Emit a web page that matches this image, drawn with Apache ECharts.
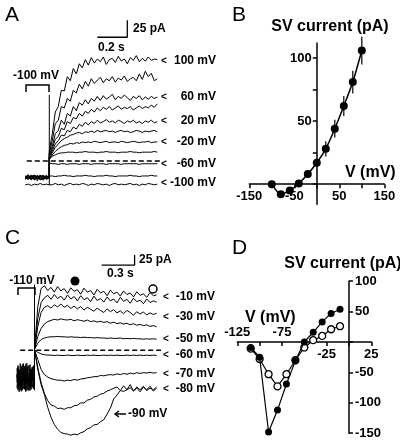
<!DOCTYPE html>
<html><head><meta charset="utf-8">
<script src="https://cdn.jsdelivr.net/npm/echarts@6/dist/echarts.min.js"></script>
<style>html,body{margin:0;padding:0;background:#fff}#c{width:400px;height:442px}</style>
</head><body><div id="c"></div>
<script>
// ---------------- Panel A : current traces (time s, current pA) ----------------
const timeA = [-0.16,-0.14,-0.12,-0.10,-0.08,-0.06,-0.04,-0.02,0,
  0,0.02,0.04,0.06,0.08,0.10,0.12,0.14,0.16,0.18,0.20,0.22,0.24,0.26,0.28,0.30,0.32,0.34,0.36,0.38,0.40,0.42,0.44,0.46,0.48,0.50,0.52,0.54,0.56,0.58,0.60,0.62,0.64,0.66,0.68,0.70,0.72];
const trA100 = [-24,-20,-27,-22,-26,-21,-25,-23,-24, 15,40,72,80,104,103,124,118,136,128,143,137,149,141,152,144,150,146,153,142,149,151,145,154,147,150,143,152,148,155,146,151,147,153,148,150,149];
const trA80  = [-26,-22,-24,-28,-21,-25,-27,-22,-25, 12,30,55,60,80,78,92,88,104,100,113,106,117,110,121,114,119,123,115,121,118,124,116,122,119,125,117,121,123,118,128,120,132,124,129,118,121];
const trA60  = [-22,-27,-23,-25,-29,-22,-24,-26,-23, 10,22,40,45,60,54,70,66,80,74,86,82,90,84,92,88,95,89,96,91,94,98,90,95,92,97,93,89,95,92,96,90,94,91,95,92,94];
const trA40  = [-25,-23,-28,-21,-24,-27,-22,-26,-24, 8,18,32,36,48,46,58,55,64,62,70,66,73,70,76,72,78,74,79,76,80,75,78,81,76,79,77,80,75,78,81,77,80,78,82,79,84];
const trA20  = [-27,-24,-21,-26,-23,-28,-25,-21,-26, 6,15,25,30,38,37,45,43,50,47,54,51,57,53,58,55,60,56,58,61,57,59,56,60,58,55,59,57,60,56,58,55,59,57,60,56,58];
const trA0   = [-23,-26,-25,-24,-22,-26,-28,-24,-22, 4,12,20,25,30,33,35,38,39,41,42,40,43,42,44,42,45,43,44,45,43,44,42,44,45,43,44,42,43,45,44,42,44,43,44,45,43];
const trAm20 = [-25,-21,-26,-23,-27,-24,-21,-27,-25, 2,9,14,18,21,23,24,26,25,27,26,28,27,28,27,29,28,27,28,29,27,28,28,27,29,28,27,28,29,28,27,28,28,29,27,28,28];
const trAm40 = [-24,-27,-22,-25,-24,-21,-26,-25,-23, 3,7,9,11,12,12,13,13,13,12,13,13,14,13,13,13,12,13,13,14,13,13,13,12,13,13,13,14,13,13,12,13,13,13,13,14,13];
const trAm60 = [-26,-24,-23,-27,-25,-24,-23,-26,-24, -3,-4,-4,-5,-4,-4,-5,-4,-4,-4,-5,-4,-4,-4,-5,-4,-4,-4,-4,-5,-4,-4,-4,-4,-5,-4,-4,-4,-4,-4,-5,-4,-4,-4,-4,-4,-4];
const trAm80 = [-22,-23,-22,-21,-23,-22,-22,-23,-22, -22,-22,-23,-22,-22,-21,-22,-22,-23,-22,-22,-22,-21,-22,-22,-23,-22,-22,-22,-21,-22,-22,-23,-22,-22,-22,-22,-21,-22,-22,-23,-22,-22,-22,-21,-22,-22];
const trAm100= [-35,-34,-36,-34,-35,-33,-35,-34,-35, -34,-35,-33,-35,-34,-36,-34,-33,-35,-34,-35,-33,-34,-36,-34,-35,-33,-34,-35,-34,-36,-34,-33,-35,-34,-35,-34,-33,-35,-34,-36,-34,-35,-33,-34,-35,-34];
const tracesA = [trA100,trA80,trA60,trA40,trA20,trA0,trAm20,trAm40,trAm60,trAm80,trAm100];
const spikeA = [[0,-35],[0,97]];
const zeroLineA = [-0.15, 0.75];
const scaleA = {t0:0.32, dt:0.2, i0:182, di:25};
const labelsA = ['100 mV','60 mV','20 mV','-20 mV','-60 mV','-100 mV'];

// ---------------- Panel B : I-V ----------------
const vB = [-100,-80,-60,-40,-20,0,20,40,60,80,100];
const iB = [0,-8,-5,0.5,8,17,28,44,62,81,106];
const eB = [0,0,0,0,3,3,6,7,8,9,11];
const bXRange = [-150,150];
const bYRange = [-16,112];
const bXTicks = [-150,-100,-50,0,50,100,150];
const bXLabels = [-150,-50,50,150];
const bYTicks = [0,25,50,75,100];
const bYLabels = [50,100];

// ---------------- Panel C : current traces ----------------
const preTimeC = [-0.16,-0.15,-0.14,-0.13,-0.12,-0.11,-0.10,-0.09,-0.08,-0.07,-0.06,-0.05,-0.04,-0.03,-0.02,-0.01,0];
const preC1 = [-45,-95,-60,-100,-40,-85,-55,-98,-35,-80,-65,-102,-50,-90,-42,-88,-70];
const preC2 = [-80,-38,-92,-50,-103,-62,-33,-96,-58,-45,-99,-70,-36,-84,-60,-97,-48];
const preC3 = [-60,-100,-48,-72,-90,-35,-78,-52,-104,-66,-40,-88,-94,-55,-75,-38,-92];
const preC4 = [-95,-55,-80,-33,-68,-100,-45,-85,-70,-101,-52,-37,-76,-98,-42,-66,-58];
const preC5 = [-70,-42,-104,-85,-52,-74,-96,-40,-88,-32,-82,-58,-100,-46,-93,-80,-36];
const timeC = [0,0.03,0.06,0.09,0.12,0.15,0.18,0.21,0.24,0.27,0.30,0.33,0.36,0.39,0.42,0.45,0.48,0.51,0.54,0.57,0.60,0.63,0.66,0.69,0.72,0.75,0.78,0.81,0.84,0.87,0.90,0.93,0.96,0.99,1.02,1.05,1.08,1.11];
const trCm10 = [2,110,155,162,150,158,146,160,149,155,143,157,148,152,141,156,146,150,139,153,144,148,137,151,142,146,136,149,140,144,134,147,138,142,133,145,137,139];
const trCm20 = [2,80,120,132,138,128,140,130,136,126,139,129,135,124,137,127,132,122,136,125,130,121,134,124,129,119,133,123,128,118,131,122,126,117,129,120,124,121];
const trCm30 = [2,60,95,108,112,106,114,109,116,108,113,105,111,104,110,101,108,103,98,106,100,95,104,97,102,94,99,92,100,95,88,97,91,96,89,94,90,93];
const trCm40 = [2,35,55,66,72,75,78,76,79,77,76,78,74,77,75,73,76,72,74,71,73,70,72,68,71,67,69,66,68,64,67,63,65,62,64,60,62,59];
const trCm50 = [2,18,27,31,33,34,34,35,34,34,33,34,33,33,32,33,32,32,31,32,31,31,30,31,30,30,31,29,30,29,30,29,29,28,29,28,29,28];
const trCm60 = [1,-5,-9,-11,-12,-12,-13,-12,-13,-13,-12,-13,-13,-12,-13,-13,-12,-13,-12,-13,-13,-12,-13,-12,-13,-12,-13,-13,-12,-13,-12,-13,-12,-13,-12,-13,-12,-13];
const trCm70 = [2,-23,-48,-61,-67,-71,-73,-75,-75,-77,-75,-76,-73,-75,-72,-71,-69,-68,-66,-66,-63,-64,-62,-61,-62,-59,-61,-58,-60,-57,-59,-56,-58,-56,-57,-55,-57,-56];
const trCm80 = [2,-43,-81,-108,-126,-137,-140,-146,-145,-148,-144,-144,-139,-138,-132,-132,-125,-123,-117,-115,-110,-108,-102,-99,-95,-92,-101,-89,-99,-86,-102,-95,-104,-92,-99,-90,-102,-95];
const trCm90 = [2,-48,-86,-111,-143,-168,-186,-198,-206,-209,-210,-213,-210,-212,-207,-204,-197,-194,-187,-186,-179,-174,-160,-145,-122,-112,-101,-103,-99,-94,-102,-92,-99,-90,-101,-95,-99,-92];
const tracesC = [trCm10,trCm20,trCm30,trCm40,trCm50,trCm60,trCm70,trCm80,trCm90];
const preC = [preC1,preC2,preC3,preC4,preC5];
const spikeC = [[0,-100],[0,165]];
const zeroLineC = [-0.13, 1.15];
const scaleC = {t0:0.61, dt:0.3, i0:214, di:25};
const labelsC = ['-10 mV','-30 mV','-50 mV','-60 mV','-70 mV','-80 mV'];

// ---------------- Panel D : I-V ----------------
const vD = [-110,-100,-90,-80,-70,-60,-50,-40,-30,-20,-10];
const iDpeak = [-9,-25,-148,-112,-69,-31,0,16,33,47,54];
const iDend  = [-11,-28,-53,-73,-53,-30,-9,3,10,21,26];
const dXRange = [-125,25];
const dYRange = [-150,100];
const dXTicks = [-125,-100,-75,-50,-25,0,25];
const dXLabelsUp = [-125,-75];
const dXLabelsDown = [-25,25];
const dYTicks = [100,50,0,-50,-100,-150];
const dYLabels = [100,50,-50,-100,-150];

// ---------------- build ----------------
const FF = '"Liberation Sans", Arial, sans-serif';
const zip = (xs, ys) => xs.map((x, i) => [x, ys[i]]);
const lineS = (xi, yi, data, extra) => Object.assign({
  type:'line', xAxisIndex:xi, yAxisIndex:yi, data, showSymbol:false, symbol:'none',
  lineStyle:{color:'#000', width:1}, silent:true, z:2
}, extra || {});

const series = [];
tracesA.forEach(tr => series.push(lineS(0,0,zip(timeA,tr))));
series.push(lineS(0,0,spikeA));
series.push(lineS(0,0,zeroLineA.map(t=>[t,0]),{lineStyle:{color:'#000',width:1.5,type:[5,3]}}));
series.push(lineS(0,0,[[scaleA.t0,scaleA.i0],[scaleA.t0+scaleA.dt,scaleA.i0],[scaleA.t0+scaleA.dt,scaleA.i0+scaleA.di]],{lineStyle:{color:'#000',width:1.3}}));

preC.forEach(p => series.push(lineS(2,2,zip(preTimeC,p),{lineStyle:{color:'#000',width:0.9}})));
tracesC.forEach(tr => series.push(lineS(2,2,zip(timeC,tr))));
series.push(lineS(2,2,spikeC));
series.push(lineS(2,2,zeroLineC.map(t=>[t,0]),{lineStyle:{color:'#000',width:1.5,type:[5,3]}}));
series.push(lineS(2,2,[[scaleC.t0,scaleC.i0],[scaleC.t0+scaleC.dt,scaleC.i0],[scaleC.t0+scaleC.dt,scaleC.i0+scaleC.di]],{lineStyle:{color:'#000',width:1.3}}));

// Panel B
series.push({type:'custom', xAxisIndex:1, yAxisIndex:1, silent:true, z:3,
  data: vB.map((v,i)=>[v,iB[i],eB[i]]),
  renderItem:(params, api)=>{
    const x=api.value(0), y=api.value(1), e=api.value(2);
    const a=api.coord([x,y-e]), b=api.coord([x,y+e]);
    return {type:'line', shape:{x1:a[0],y1:a[1],x2:b[0],y2:b[1]}, style:{stroke:'#000', lineWidth:1.2}};
  }});
series.push({type:'line', xAxisIndex:1, yAxisIndex:1, data:zip(vB,iB), smooth:0.25,
  symbol:'circle', symbolSize:8, itemStyle:{color:'#000'}, lineStyle:{color:'#000', width:1.5}, z:4, silent:true});

// Panel D
series.push({type:'line', xAxisIndex:3, yAxisIndex:3, data:zip(vD,iDend),
  symbol:'circle', symbolSize:7, itemStyle:{color:'#fff', borderColor:'#000', borderWidth:1.3},
  lineStyle:{color:'#000', width:1.2}, z:4, silent:true});
series.push({type:'line', xAxisIndex:3, yAxisIndex:3, data:zip(vD,iDpeak),
  symbol:'circle', symbolSize:7, itemStyle:{color:'#000'},
  lineStyle:{color:'#000', width:1.2}, z:5, silent:true});
// lower V-axis tick labels of panel D, drawn as labels of invisible points on the axis
series.push({type:'custom', xAxisIndex:3, yAxisIndex:3, silent:true, z:20, clip:false,
  data: dXLabelsDown.map(v => [v, 0]),
  renderItem:(params, api)=>{
    const p = api.coord([api.value(0), 0]);
    return {type:'text', z2:100, style:{text:String(api.value(0)), x:p[0], y:p[1]+6,
      align:'center', verticalAlign:'top', fill:'#000', font:`bold 13px ${FF}`}};
  }});

// axes crossing at zero: placed with offsets derived from grid geometry and ranges
const gridB = {left:249.3, top:43, width:135, height:161.3};
const gridD = {left:237.3, top:281.2, width:134, height:152};
const frac = (r, v) => (v - r[0]) / (r[1] - r[0]);
const bXoff = -frac(bYRange,0) * gridB.height;
const bYoff = -frac(bXRange,0) * gridB.width;
const dXoff = -frac(dYRange,0) * gridD.height;
const dXoffTop = -(1 - frac(dYRange,0)) * gridD.height;
const dYoff = -(1 - frac(dXRange,0)) * gridD.width;

const axLine = {show:true, onZero:false, lineStyle:{color:'#000', width:1.5}};
const lab = {color:'#000', fontFamily:FF, fontWeight:'bold', fontSize:13, hideOverlap:false};
const hidden = (gi, min, max) => ({type:'value', gridIndex:gi, min, max, show:false});

const option = {
  animation:false,
  backgroundColor:'#fff',
  grid:[
    {left:25.3, top:18.2, width:138, height:170},
    Object.assign({}, gridB),
    {left:14.7, top:250.7, width:149.6, height:192},
    Object.assign({}, gridD),
    Object.assign({}, gridD)
  ],
  xAxis:[
    hidden(0,-0.16,0.76),
    {type:'value', gridIndex:1, min:bXRange[0], max:bXRange[1], position:'bottom', offset:bXoff,
      axisLine:axLine, splitLine:{show:false},
      axisTick:{show:true, length:4, customValues:bXTicks, lineStyle:{color:'#000',width:1.5}},
      axisLabel:Object.assign({margin:6, customValues:bXLabels}, lab)},
    hidden(2,-0.18,1.18),
    {type:'value', gridIndex:3, min:dXRange[0], max:dXRange[1], position:'bottom', offset:dXoff,
      axisLine:axLine, splitLine:{show:false},
      axisTick:{show:true, length:4, customValues:dXTicks, lineStyle:{color:'#000',width:1.5}},
      axisLabel:{show:false}},
    {type:'value', gridIndex:4, min:dXRange[0], max:dXRange[1], position:'top', offset:dXoffTop,
      axisLine:{show:false, onZero:false}, splitLine:{show:false}, axisTick:{show:false},
      axisLabel:Object.assign({margin:3, customValues:dXLabelsUp}, lab)}
  ],
  yAxis:[
    hidden(0,-40,210),
    {type:'value', gridIndex:1, min:bYRange[0], max:bYRange[1], position:'left', offset:bYoff,
      axisLine:axLine, splitLine:{show:false},
      axisTick:{show:true, length:4, customValues:bYTicks, lineStyle:{color:'#000',width:1.5}},
      axisLabel:Object.assign({margin:5, customValues:bYLabels}, lab)},
    hidden(2,-230,250),
    {type:'value', gridIndex:3, min:dYRange[0], max:dYRange[1], position:'right', offset:dYoff,
      axisLine:axLine, splitLine:{show:false},
      axisTick:{show:true, length:4, customValues:dYTicks, lineStyle:{color:'#000',width:1.5}},
      axisLabel:Object.assign({margin:6, customValues:dYLabels}, lab)},
    hidden(4,dYRange[0],dYRange[1])
  ],
  series,
  graphic: []
};

// ---------- annotations (layout only) ----------
const G = [];
const txt = (t, x, y, size, weight, align) => G.push({type:'text', silent:true, z:10,
  style:{text:t, x, y, fill:'#000', font:`${weight} ${size}px ${FF}`, textAlign:align||'left', textVerticalAlign:'middle'}});
const poly = (pts, w) => G.push({type:'polyline', silent:true, z:10, shape:{points:pts}, style:{stroke:'#000', lineWidth:w||1.5, fill:null}});

txt('A', 5, 15, 21, 'normal'); txt('B', 232, 15, 21, 'normal');
txt('C', 5, 238, 21, 'normal'); txt('D', 232, 248, 21, 'normal');
txt('25 pA', 133, 29, 12, 'bold'); txt('0.2 s', 98, 48, 12, 'bold');
txt('-100 mV', 36, 76, 12, 'bold', 'center');
poly([[26,92],[26,85],[49,85],[49,92]]);
const posA = [61,97,121,142,164,183];
labelsA.forEach((l,i)=>{ txt('<', 161, posA[i], 10, 'bold'); txt(l, 216, posA[i], 12, 'bold', 'right'); });
txt('SV current (pA)', 330, 27, 16, 'bold', 'center');
txt('V (mV)', 345, 173, 16, 'bold');
txt('25 pA', 139, 260, 12, 'bold'); txt('0.3 s', 107, 274, 12, 'bold');
txt('-110 mV', 32, 281, 12, 'bold', 'center');
poly([[18,295],[18,288],[35,288],[35,295]]);
G.push({type:'circle', silent:true, z:10, shape:{cx:75, cy:281, r:4.5}, style:{fill:'#000'}});
G.push({type:'circle', silent:true, z:10, shape:{cx:153, cy:289, r:4}, style:{fill:'#fff', stroke:'#000', lineWidth:1.5}});
const posC = [297,317,339,355,374,389];
labelsC.forEach((l,i)=>{ txt('<', 163, posC[i], 10, 'bold'); txt(l, 215, posC[i], 12, 'bold', 'right'); });
poly([[126,414],[115,414]], 1.5); poly([[119,411],[115,414],[119,417]], 1.5);
txt('-90 mV', 128, 414, 12, 'bold');
txt('SV current (pA)', 343, 264, 16, 'bold', 'center');
txt('V (mV)', 245, 318, 16, 'bold');

option.graphic = G;
const chart = echarts.init(document.getElementById('c'), null, {renderer:'canvas'});
chart.setOption(option);
</script></body></html>
